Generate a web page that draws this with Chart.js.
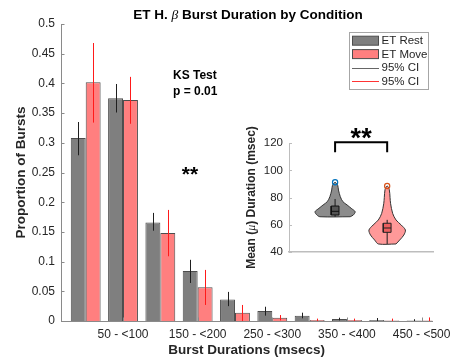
<!DOCTYPE html>
<html>
<head>
<meta charset="utf-8">
<script src="https://cdn.jsdelivr.net/npm/chart.js@4.4.1/dist/chart.umd.min.js"></script>
<style>
  html, body { margin: 0; padding: 0; background: #fff; }
  #wrap { position: relative; width: 457px; height: 362px; }
  canvas { position: absolute; left: 0; top: 0; }
  #inset { pointer-events: none; }
</style>
</head>
<body>
<div id="wrap">
  <canvas id="main" width="457" height="362"></canvas>
  <canvas id="inset" width="457" height="362"></canvas>
</div>
<script>
// burst duration bins
const categories = ['0 - <50', '50 - <100', '100 - <150', '150 - <200', '200 - <250',
  '250 - <300', '300 - <350', '350 - <400', '400 - <450', '450 - <500'];
const tickBins = [2, 4, 6, 8, 10];

// proportion of bursts + 95% CI
const restProp = [0.308, 0.375, 0.166, 0.084, 0.036, 0.017, 0.009, 0.0035, 0.0017, 0.001];
const restLo   = [0.279, 0.351, 0.152, 0.064, 0.025, 0.009, 0.0045, 0.001, 0, 0];
const restHi   = [0.335, 0.399, 0.182, 0.103, 0.049, 0.024, 0.014, 0.0056, 0.005, 0.003];
const moveProp = [0.402, 0.372, 0.148, 0.057, 0.014, 0.0056, 0.0017, 0.0017, 0.0008, 0.0008];
const moveLo   = [0.334, 0.332, 0.109, 0.027, 0, 0.001, 0, 0, 0, 0];
const moveHi   = [0.468, 0.411, 0.187, 0.086, 0.027, 0.010, 0.004, 0.004, 0.004, 0.006];

// inset: mean burst duration violins (value levels, half widths)
const restViolinY = [65.8, 67.1, 69.5, 72, 74.5, 76.9, 80.6, 85.5, 89, 91.2];
const restViolinW = [0.29, 0.35, 0.385, 0.31, 0.23, 0.15, 0.10, 0.065, 0.05, 0];
const moveViolinY = [45.7, 48.6, 52.3, 56, 59.7, 63.4, 68.3, 75.7, 80, 86, 88.5];
const moveViolinW = [0.17, 0.24, 0.32, 0.35, 0.27, 0.17, 0.105, 0.065, 0.055, 0.04, 0];
// [whiskerLow, q1, median, q3, whiskerHigh, marker]
const restBox = [65.8, 67.1, 69.8, 73.7, 78.9, 91.2];
const moveBox = [45.7, 54.3, 57.5, 61, 63.5, 88.5];
const bracket = [113.4, 120.8];

const FONT = '"Liberation Sans", Arial, Helvetica, sans-serif';
const TXT = '#262626';
Chart.defaults.font.family = FONT;
Chart.defaults.color = TXT;

function drawRich(ctx, parts, x, y) {
  let total = 0;
  parts.forEach(p => { ctx.font = p[1]; total += ctx.measureText(p[0]).width; });
  let cx = x - total / 2;
  ctx.textAlign = 'left';
  ctx.textBaseline = 'middle';
  parts.forEach(p => {
    ctx.font = p[1];
    ctx.fillText(p[0], cx, y);
    cx += ctx.measureText(p[0]).width;
  });
}

const errorBars = {
  id: 'errorBars',
  afterDatasetsDraw(chart) {
    const ctx = chart.ctx, ys = chart.scales.y;
    chart.data.datasets.forEach((ds, di) => {
      const meta = chart.getDatasetMeta(di);
      ctx.save();
      ctx.strokeStyle = ds.ciColor;
      ctx.lineWidth = 1;
      meta.data.forEach((bar, i) => {
        const x = Math.round(bar.x) + 0.5;
        ctx.beginPath();
        ctx.moveTo(x, ys.getPixelForValue(ds.ci[0][i]));
        ctx.lineTo(x, ys.getPixelForValue(ds.ci[1][i]));
        ctx.stroke();
      });
      ctx.restore();
    });
  }
};

const mainDecor = {
  id: 'mainDecor',
  afterDraw(chart) {
    const ctx = chart.ctx, a = chart.chartArea;
    ctx.save();
    ctx.fillStyle = '#000';
    drawRich(ctx, [['ET H. ', 'bold 13.5px ' + FONT], ['\u03b2', 'italic 13.5px "Liberation Serif", serif'],
      [' Burst Duration by Condition', 'bold 13.5px ' + FONT]], 248, 15);

    ctx.fillStyle = TXT;
    ctx.font = 'bold 13.5px ' + FONT;
    ctx.textAlign = 'center';
    ctx.textBaseline = 'middle';
    ctx.fillText('Burst Durations (msecs)', (a.left + a.right) / 2, 350);
    ctx.save();
    ctx.translate(21, (a.top + a.bottom) / 2);
    ctx.rotate(-Math.PI / 2);
    ctx.fillText('Proportion of Bursts', 0, 0);
    ctx.restore();

    // stats text
    ctx.fillStyle = '#000';
    ctx.font = 'bold 12px ' + FONT;
    ctx.textAlign = 'left';
    ctx.fillText('KS Test', 173, 76);
    ctx.fillText('p = 0.01', 173, 92);
    ctx.font = 'bold 21px ' + FONT;
    ctx.textAlign = 'center';
    ctx.textBaseline = 'alphabetic';
    ctx.fillText('**', 190, 181);

    // inward tick marks
    ctx.strokeStyle = '#8a8a8a';
    ctx.lineWidth = 1;
    chart.scales.y.ticks.forEach(t => {
      const y = Math.round(chart.scales.y.getPixelForValue(t.value)) + 0.5;
      ctx.beginPath(); ctx.moveTo(a.left, y); ctx.lineTo(a.left + 3.5, y); ctx.stroke();
    });
    chart.scales.x.ticks.forEach(t => {
      const x = Math.round(chart.scales.x.getPixelForValue(t.value)) + 0.5;
      ctx.beginPath(); ctx.moveTo(x, a.bottom); ctx.lineTo(x, a.bottom - 3.5); ctx.stroke();
    });

    // legend
    const lx = 349.5, ly = 32.5;
    ctx.fillStyle = '#fff';
    ctx.fillRect(lx, ly, 79, 57);
    ctx.strokeStyle = '#a6a6a6';
    ctx.strokeRect(lx, ly, 79, 57);
    const rows = [40.7, 54.1, 67.6, 81];
    ctx.font = '11.5px ' + FONT;
    ctx.textAlign = 'left';
    ctx.textBaseline = 'middle';
    chart.data.datasets.forEach((ds, i) => {
      ctx.fillStyle = ds.backgroundColor;
      ctx.fillRect(352.5, rows[i] - 4.5, 26, 9);
      ctx.strokeStyle = ds.borderColor;
      ctx.strokeRect(352.5, rows[i] - 4.5, 26, 9);
      ctx.fillStyle = TXT;
      ctx.fillText(ds.label, 381.5, rows[i] + 0.5);
      const r = rows[i + 2];
      ctx.strokeStyle = ds.ciLegend;
      ctx.beginPath(); ctx.moveTo(352, Math.round(r) + 0.5); ctx.lineTo(379, Math.round(r) + 0.5); ctx.stroke();
      ctx.fillStyle = TXT;
      ctx.fillText('95% CI', 381.5, r + 0.5);
    });
    ctx.restore();
  }
};

new Chart(document.getElementById('main'), {
  type: 'bar',
  data: {
    datasets: [
      {
        label: 'ET Rest', data: restProp.map((v, i) => ({ x: i + 1, y: v })),
        backgroundColor: '#7f7f7f', borderColor: '#4d4d4d', borderWidth: 1,
        categoryPercentage: 0.8, barPercentage: 1,
        ci: [restLo, restHi], ciColor: '#1f1f1f', ciLegend: '#666'
      },
      {
        label: 'ET Move', data: moveProp.map((v, i) => ({ x: i + 1, y: v })),
        backgroundColor: '#ff7f7f', borderColor: '#4d4d4d', borderWidth: 1,
        categoryPercentage: 0.8, barPercentage: 1,
        ci: [moveLo, moveHi], ciColor: '#ff1a1a', ciLegend: '#ff3333'
      }
    ]
  },
  options: {
    responsive: false, animation: false, devicePixelRatio: 1,
    layout: { padding: { left: 0, right: 20, top: 24, bottom: 0 } },
    plugins: { legend: { display: false }, tooltip: { enabled: false } },
    scales: {
      x: {
        type: 'linear', min: 0.338, max: 10.29, offset: false,
        grid: { display: false, drawTicks: false, offset: false },
        border: { color: '#8a8a8a' },
        afterFit: s => { s.height = 41; },
        afterBuildTicks: s => { s.ticks = tickBins.map(v => ({ value: v })); },
        ticks: { callback: v => categories[v - 1], padding: 6, maxRotation: 0, autoSkip: false, font: { size: 12 }, color: TXT }
      },
      y: {
        min: 0, max: 0.5,
        grid: { display: false, drawTicks: false },
        border: { color: '#8a8a8a' },
        afterFit: s => { s.width = 61; },
        ticks: { stepSize: 0.05, callback: v => +v.toFixed(2), padding: 6, font: { size: 12 }, color: TXT }
      }
    }
  },
  plugins: [errorBars, mainDecor]
});

// ---------- inset ----------
function violin(c, ys, ws) {
  const right = ys.map((y, i) => ({ x: c + ws[i], y }));
  const left = ys.slice(0, -1).map((y, i) => ({ x: c - ws[i], y })).reverse();
  return [...right, ...left, right[0]];
}
function boxRect(c, b, hw) {
  return [{ x: c - hw, y: b[1] }, { x: c + hw, y: b[1] }, { x: c + hw, y: b[3] }, { x: c - hw, y: b[3] }, { x: c - hw, y: b[1] }];
}
const line = (pts, color, w, order, extra) => Object.assign({
  data: pts, showLine: true, borderColor: color, borderWidth: w, pointRadius: 0, fill: false, order, clip: false
}, extra || {});

const insetDecor = {
  id: 'insetDecor',
  afterDraw(chart) {
    const ctx = chart.ctx, a = chart.chartArea, xs = chart.scales.x, ys = chart.scales.y;
    ctx.save();
    ctx.fillStyle = '#000';
    ctx.font = 'bold 27px ' + FONT;
    ctx.textAlign = 'center';
    ctx.textBaseline = 'alphabetic';
    ctx.fillText('**', xs.getPixelForValue(1.5), 147);

    ctx.strokeStyle = '#bdbdbd';
    ctx.lineWidth = 1;
    ys.ticks.forEach(t => {
      const y = Math.round(ys.getPixelForValue(t.value)) + 0.5;
      ctx.beginPath(); ctx.moveTo(a.left, y); ctx.lineTo(a.left + 3, y); ctx.stroke();
    });

    ctx.fillStyle = TXT;
    ctx.translate(252, (a.top + a.bottom) / 2);
    ctx.rotate(-Math.PI / 2);
    drawRich(ctx, [['Mean (', 'bold 12px ' + FONT], ['\u03bc', 'italic 12px "Liberation Serif", serif'],
      [') Duration (msec)', 'bold 12px ' + FONT]], 0, 0);
    ctx.restore();
  }
};

new Chart(document.getElementById('inset'), {
  type: 'scatter',
  data: {
    datasets: [
      line(violin(1, restViolinY, restViolinW), '#333', 1, 6, { fill: 'shape', backgroundColor: '#8c8c8c', tension: 0.3 }),
      line(violin(2, moveViolinY, moveViolinW), '#333', 1, 6, { fill: 'shape', backgroundColor: '#ff9999', tension: 0.3 }),
      line([{ x: 1, y: restBox[0] }, { x: 1, y: restBox[4] }], '#1a1a1a', 1, 5),
      line([{ x: 2, y: moveBox[0] }, { x: 2, y: moveBox[4] }], '#1a1a1a', 1, 5),
      line(boxRect(1, restBox, 0.075), '#111', 1, 4, { fill: 'shape', backgroundColor: '#555' }),
      line(boxRect(2, moveBox, 0.075), '#222', 1, 4, { fill: 'shape', backgroundColor: '#ec5f5f' }),
      line([{ x: 0.925, y: restBox[2] }, { x: 1.075, y: restBox[2] }], '#111', 1, 3),
      line([{ x: 1.925, y: moveBox[2] }, { x: 2.075, y: moveBox[2] }], '#222', 1, 3),
      { data: [{ x: 1, y: restBox[5] }], pointRadius: 2.6, pointBorderColor: '#0072BD', pointBorderWidth: 1.2, pointBackgroundColor: 'rgba(0,0,0,0)', order: 2, clip: false },
      { data: [{ x: 2, y: moveBox[5] }], pointRadius: 2.6, pointBorderColor: '#D95319', pointBorderWidth: 1.2, pointBackgroundColor: 'rgba(0,0,0,0)', order: 2, clip: false },
      line([{ x: 1, y: bracket[0] }, { x: 1, y: bracket[1] }, { x: 2, y: bracket[1] }, { x: 2, y: bracket[0] }], '#000', 2, 1)
    ]
  },
  options: {
    responsive: false, animation: false, devicePixelRatio: 1,
    layout: { padding: { left: 249, right: 24, top: 143.3, bottom: 100.3 } },
    plugins: { legend: { display: false }, tooltip: { enabled: false } },
    scales: {
      x: {
        type: 'linear', min: 0.115, max: 2.88,
        grid: { display: false, drawTicks: false },
        border: { color: '#bdbdbd', width: 1.5 },
        ticks: { display: false },
        afterFit: s => { s.height = 10; }
      },
      y: {
        min: 40, max: 120,
        grid: { display: false, drawTicks: false },
        border: { color: '#bdbdbd', width: 1 },
        afterFit: s => { s.width = 40; },
        ticks: { stepSize: 20, padding: 6, font: { size: 11.5 }, color: TXT }
      }
    }
  },
  plugins: [insetDecor]
});
</script>
</body>
</html>
